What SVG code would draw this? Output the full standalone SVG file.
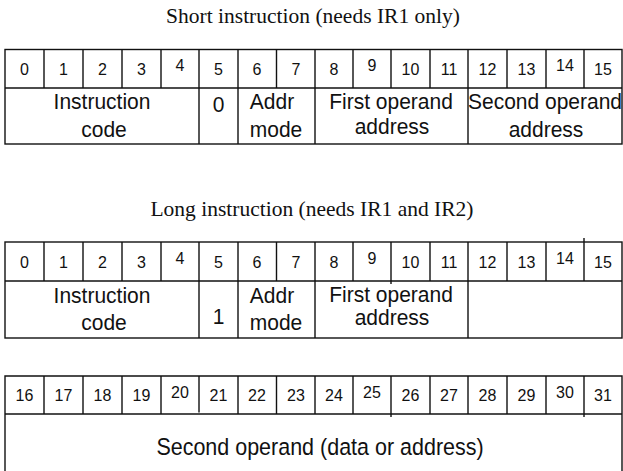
<svg xmlns="http://www.w3.org/2000/svg" width="623" height="471" viewBox="0 0 623 471">
  <style>
    .grid { fill: none; stroke: #111; stroke-width: 1.4; }
    .title { font-family: "Liberation Serif", "Times New Roman", serif; font-size: 21.5px; fill: #111; text-anchor: middle; }
    .bit { font-family: "Liberation Sans", Arial, sans-serif; font-size: 16px; fill: #111; text-anchor: middle; }
    .field { font-family: "Liberation Sans", Arial, sans-serif; font-size: 21px; fill: #111; text-anchor: middle; }
  </style>
  <rect width="623" height="471" fill="#fff"/>

  <!-- Short instruction format: one 16-bit word -->
  <g id="short-title"><text class="title" x="313" y="23">Short instruction (needs IR1 only)</text></g>
  <g id="short-word">
    <g class="grid">
      <rect x="5" y="49.5" width="617" height="94.5"/>
      <line x1="5" y1="88" x2="622" y2="88"/>
      <path d="M44 49.5V88M83 49.5V88M122 49.5V88M161 49.5V88M199 49.5V144M238 49.5V144M276.5 49.5V88M315 49.5V144M353 49.5V88M391 49.5V88M430 49.5V88M468 49.5V144M507 49.5V88M546 49.5V88M584 49.5V88"/>
    </g>
    <g class="bit">
      <text x="24.5" y="74.5">0</text><text x="63.5" y="74.5">1</text><text x="102.5" y="74.5">2</text><text x="141.5" y="74.5">3</text>
      <text x="180" y="71">4</text><text x="218.5" y="74.5">5</text><text x="257" y="74.5">6</text><text x="296" y="74.5">7</text>
      <text x="334" y="74.5">8</text><text x="372" y="71">9</text><text x="410.5" y="74.5">10</text><text x="449" y="74.5">11</text>
      <text x="487.5" y="74.5">12</text><text x="526.5" y="74.5">13</text><text x="565" y="71">14</text><text x="603" y="74.5">15</text>
    </g>
    <!-- field labels are drawn slightly tall: scale(1 1.08) about their baseline -->
    <g id="short-opcode" class="field">
      <text transform="translate(102 108.5) scale(1 1.08)">Instruction</text>
      <text transform="translate(104 137) scale(1 1.08)">code</text>
    </g>
    <g id="short-flag" class="field"><text transform="translate(218.5 112) scale(1 1.08)">0</text></g>
    <g id="short-mode" class="field">
      <text transform="translate(272 109) scale(1 1.08)">Addr</text>
      <text transform="translate(276 137) scale(1 1.08)">mode</text>
    </g>
    <g id="short-op1" class="field">
      <text transform="translate(391 108.5) scale(1 1.08)">First operand</text>
      <text transform="translate(392 134) scale(1 1.08)">address</text>
    </g>
    <g id="short-op2" class="field">
      <text transform="translate(545 108.5) scale(1 1.08)">Second operand</text>
      <text transform="translate(546 137) scale(1 1.08)">address</text>
    </g>
  </g>

  <!-- Long instruction format: two 16-bit words -->
  <g id="long-title"><text class="title" x="312" y="216">Long instruction (needs IR1 and IR2)</text></g>
  <g id="long-word1">
    <g class="grid">
      <rect x="5" y="242" width="617" height="96"/>
      <line x1="5" y1="281" x2="622" y2="281"/>
      <path d="M44 242V281M83 242V281M122 242V281M161 242V281M199 242V338M238 242V338M276.5 242V281M315 242V338M353 242V281M391 242V284M430 242V281M468 242V338M507 242V281M546 242V281M584 238V281"/>
    </g>
    <g class="bit">
      <text x="24.5" y="267.5">0</text><text x="63.5" y="267.5">1</text><text x="102.5" y="267.5">2</text><text x="141.5" y="267.5">3</text>
      <text x="180" y="264">4</text><text x="218.5" y="267.5">5</text><text x="257" y="267.5">6</text><text x="296" y="267.5">7</text>
      <text x="334" y="267.5">8</text><text x="372" y="264">9</text><text x="410.5" y="267.5">10</text><text x="449" y="267.5">11</text>
      <text x="487.5" y="267.5">12</text><text x="526.5" y="267.5">13</text><text x="565" y="264">14</text><text x="603" y="267.5">15</text>
    </g>
    <g id="long-opcode" class="field">
      <text transform="translate(102 302.5) scale(1 1.08)">Instruction</text>
      <text transform="translate(104 330) scale(1 1.08)">code</text>
    </g>
    <g id="long-flag" class="field"><text transform="translate(218.5 324) scale(1 1.08)">1</text></g>
    <g id="long-mode" class="field">
      <text transform="translate(272 302.5) scale(1 1.08)">Addr</text>
      <text transform="translate(276 330) scale(1 1.08)">mode</text>
    </g>
    <g id="long-op1" class="field">
      <text transform="translate(391 301.5) scale(1 1.08)">First operand</text>
      <text transform="translate(392 325) scale(1 1.08)">address</text>
    </g>
  </g>

  <g id="long-word2">
    <g class="grid">
      <path d="M5 480V376H622V480"/>
      <line x1="5" y1="414" x2="622" y2="414"/>
      <path d="M44 376V414M83 376V414M122 376V414M161 376V414M199 376V412.5M238 376V414M276.5 376V414M315 376V414M353 376V414M391 376V417M430 376V414M468 376V414M507 376V414M546 376V414M584 376V417"/>
    </g>
    <g class="bit">
      <text x="24.5" y="401">16</text><text x="63.5" y="401">17</text><text x="102.5" y="401">18</text><text x="141.5" y="401">19</text>
      <text x="180" y="397.5">20</text><text x="218.5" y="401">21</text><text x="257" y="401">22</text><text x="296" y="401">23</text>
      <text x="334" y="401">24</text><text x="372" y="397.5">25</text><text x="410.5" y="401">26</text><text x="449" y="401">27</text>
      <text x="487.5" y="401">28</text><text x="526.5" y="401">29</text><text x="565" y="397.5">30</text><text x="603" y="401">31</text>
    </g>
    <g id="long-op2" class="field"><text transform="translate(320 455) scale(1 1.08)" style="font-size:21.5px">Second operand (data or address)</text></g>
  </g>
</svg>
